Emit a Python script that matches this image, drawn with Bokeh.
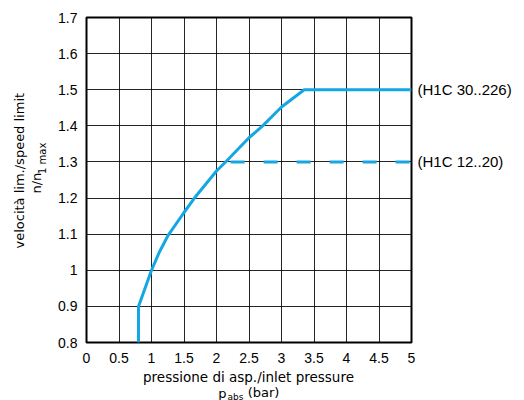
from bokeh.plotting import figure
from bokeh.models import FixedTicker, Label, Range1d, LinearAxis
from bokeh.layouts import column, row
from bokeh.embed import file_html
from bokeh.resources import INLINE
import math

# data
x_ticks = [0, 0.5, 1, 1.5, 2, 2.5, 3, 3.5, 4, 4.5, 5]
x_tick_labels = ["0", "0.5", "1", "1.5", "2", "2.5", "3", "3.5", "4", "4.5", "5"]
y_ticks = [0.8, 0.9, 1.0, 1.1, 1.2, 1.3, 1.4, 1.5, 1.6, 1.7]
y_tick_labels = ["0.8", "0.9", "1", "1.1", "1.2", "1.3", "1.4", "1.5", "1.6", "1.7"]

curve_x = [0.8, 0.8, 1.0, 1.12, 1.25, 1.5, 1.66, 2.0, 2.14, 2.5, 2.71, 3.0, 3.35, 5.0]
curve_y = [0.8, 0.9, 1.0, 1.05, 1.095, 1.16, 1.2, 1.275, 1.3, 1.367, 1.4, 1.452, 1.5, 1.5]
dash_x = [2.14, 5.0]
dash_y = [1.3, 1.3]
series_names = ["(H1C 30..226)", "(H1C 12..20)"]
series_levels = [1.5, 1.3]

BLUE = "#14a7e3"
FONT = "Liberation Sans"
TFONT = "DejaVu Sans"

YW = 48          # width of the left title strip
MW = 468         # main figure width
MH = 367         # main figure height
XH = 33          # height of the bottom title strip

# ---------------- main chart ----------------
p = figure(width=MW, height=MH, output_backend="svg", toolbar_location=None,
           x_range=Range1d(0, 5), y_range=Range1d(0.8, 1.7),
           min_border_left=38, min_border_right=105, min_border_top=17, min_border_bottom=25)

p.outline_line_color = "black"
p.outline_line_width = 2
p.background_fill_color = "white"
p.border_fill_color = "white"

right = LinearAxis(ticker=FixedTicker(ticks=series_levels),
                   major_label_overrides={lv: nm for lv, nm in zip(series_levels, series_names)})
p.add_layout(right, "right")

for ax in (p.xaxis[0], p.yaxis[0], right):
    ax.axis_line_color = None
    ax.major_tick_line_color = None
    ax.minor_tick_line_color = None
    ax.major_label_text_font = FONT
    ax.major_label_text_font_size = "14px"
    ax.major_label_text_color = "black"
right.major_label_standoff = 0
right.major_label_text_font_size = "15px"

p.xaxis[0].ticker = FixedTicker(ticks=x_ticks)
p.xaxis[0].major_label_overrides = {t: l for t, l in zip(x_ticks, x_tick_labels)}
p.xaxis[0].major_label_standoff = 4
p.yaxis[0].ticker = FixedTicker(ticks=y_ticks)
p.yaxis[0].major_label_overrides = {t: l for t, l in zip(y_ticks, y_tick_labels)}
p.yaxis[0].major_label_standoff = 3

p.xgrid.grid_line_color = "black"
p.ygrid.grid_line_color = "black"
p.xgrid.grid_line_width = 1
p.ygrid.grid_line_width = 1
p.xgrid.grid_line_alpha = 0.85
p.ygrid.grid_line_alpha = 0.85

p.line(curve_x, curve_y, line_color=BLUE, line_width=3)
p.line(dash_x, dash_y, line_color=BLUE, line_width=3, line_dash="14 19", line_dash_offset=28)

# ---------------- title strips (pixel coordinate canvases) ----------------
def strip(w, h, x0, y0):
    f = figure(width=w, height=h, output_backend="svg", toolbar_location=None,
               x_range=Range1d(x0, x0 + w), y_range=Range1d(y0 + h, y0),
               x_axis_type=None, y_axis_type=None, min_border=0)
    f.outline_line_color = None
    f.background_fill_color = "white"
    f.border_fill_color = "white"
    return f

def add_label(f, text, sx, sy, size, align="left", angle=0):
    f.add_layout(Label(x=sx, y=sy, text=text, text_font=TFONT,
                       text_font_size=size, text_align=align, text_baseline="middle",
                       angle=angle, text_color="black"))

yfig = strip(YW, MH, 0, 0)
add_label(yfig, "velocità lim./speed limit", 19, 173, "13px", align="center", angle=math.pi / 2)
add_label(yfig, "n/n", 36, 187, "13px", align="center", angle=math.pi / 2)
add_label(yfig, "1 max", 42, 159, "10px", align="center", angle=math.pi / 2)

xfig = strip(YW + MW, XH, 0, MH)
add_label(xfig, "pressione di asp./inlet pressure", 248, 376, "13.5px", align="center")
add_label(xfig, "p", 222, 393, "13px", align="center")
add_label(xfig, "abs", 235, 396, "9px", align="center")
add_label(xfig, "(bar)", 263, 392, "13px", align="center")

layout = column(row(yfig, p, spacing=0), xfig, spacing=0)

open("out.html", "w").write(file_html(layout, INLINE))
